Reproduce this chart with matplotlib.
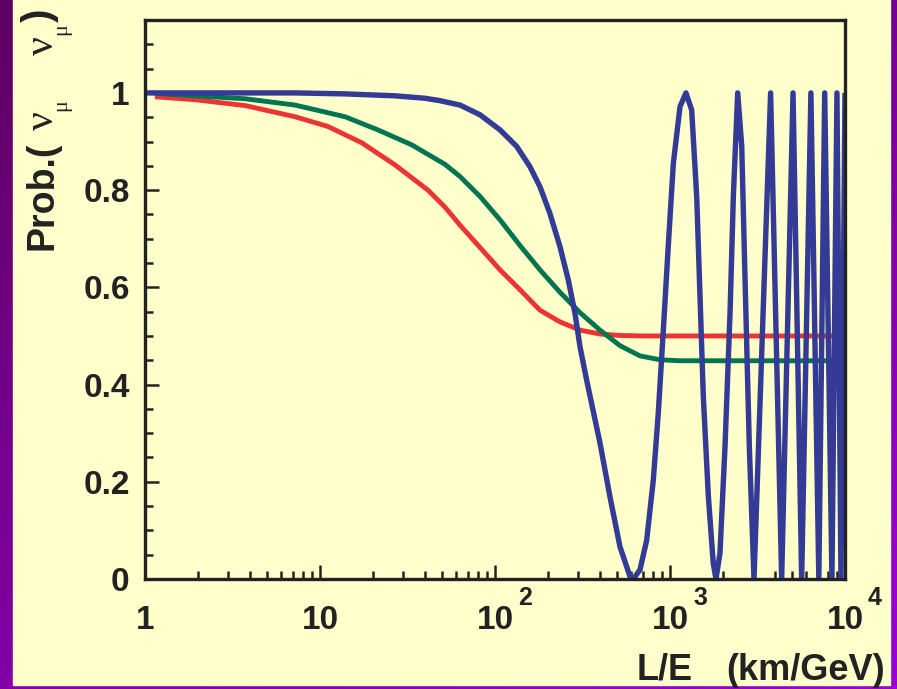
import numpy as np
import matplotlib
matplotlib.use('Agg')
import matplotlib.pyplot as plt
from matplotlib.patches import Rectangle
from matplotlib.ticker import MultipleLocator, FixedLocator, LogLocator, NullFormatter
from matplotlib.transforms import offset_copy

plt.rcParams['font.family'] = ['Liberation Sans', 'DejaVu Sans']
plt.rcParams['font.weight'] = 'bold'

# values (L/E in km/GeV, survival probability)
blue_le = [1.0, 7.2, 13.9, 26.8, 39.8, 48.5, 63.1, 82.1, 106.8, 133, 158.5, 180.7,
           206, 235, 262.4, 286.4, 306, 334, 357, 398, 454, 518, 591, 617, 674,
           736, 803, 857, 916, 977, 1045, 1141, 1234, 1330, 1421, 1484, 1550, 1656,
           1767, 1831, 1930, 2062, 2203, 2301, 2437, 2570, 2685, 2840, 3020, 3758,
           4346, 5047, 5654, 6385, 7087, 7656, 8420, 8995, 9484, 10000]
blue_p = [1.0, 1.0, 0.998, 0.994, 0.989, 0.984, 0.975, 0.955, 0.924, 0.890, 0.848, 0.807,
          0.752, 0.684, 0.615, 0.547, 0.478, 0.409, 0.360, 0.280, 0.169, 0.066, 0.005, 0.0, 0.019,
          0.080, 0.204, 0.341, 0.512, 0.684, 0.855, 0.972, 1.0, 0.965, 0.787, 0.582, 0.376, 0.171,
          0.032, 0.0, 0.053, 0.272, 0.547, 0.787, 1.0, 0.89, 0.615, 0.272, 0.0, 1.0,
          0.0, 1.0, 0.0, 1.0, 0.0, 1.0, 0.0, 1.0, 0.0, 1.0]

green_le = [1.14, 1.93, 3.73, 7.2, 13.9, 21.4, 33.5, 51.8, 63.1, 82.1, 106.8, 139,
            180.7, 235, 306, 398, 518, 674, 877, 1141, 9300]
green_p = [0.999, 0.994, 0.988, 0.975, 0.951, 0.924, 0.893, 0.853, 0.828, 0.787, 0.739,
           0.686, 0.636, 0.590, 0.548, 0.512, 0.480, 0.459, 0.451, 0.449, 0.449]

red_le = [1.14, 1.93, 3.73, 7.2, 11.1, 17.4, 26.8, 41.4, 51.8, 63.1, 82.1, 106.8, 139,
          180.7, 235, 306, 398, 518, 700, 9300]
red_p = [0.992, 0.986, 0.974, 0.951, 0.931, 0.897, 0.852, 0.800, 0.765, 0.728, 0.682,
         0.636, 0.595, 0.553, 0.529, 0.512, 0.504, 0.501, 0.500, 0.500]

y_ticks = [0, 0.2, 0.4, 0.6, 0.8, 1]
y_ticklabels = ['0', '0.2', '0.4', '0.6', '0.8', '1']
x_ticks = [1, 10, 100, 1000, 10000]
x_ticklabels = ['1', '10', '10', '10', '10']
x_exponents = ['', '', '2', '3', '4']

W, H = 897, 689
fig = plt.figure(figsize=(W / 100, H / 100), dpi=100)

# purple frame + yellow panel
bg = fig.add_axes([0, 0, 1, 1], zorder=-10)
gx, gy = np.meshgrid(np.linspace(0, 1, 64), np.linspace(0, 1, 64))
t = gx * 0.4 + gy * 0.6
c0 = np.array([0x5e, 0x00, 0x62]) / 255
c1 = np.array([0x9a, 0x00, 0xd4]) / 255
grad = c0 + (c1 - c0) * t[..., None]
bg.imshow(grad, extent=[0, 1, 1, 0], aspect='auto', origin='upper')
bg.add_patch(Rectangle((13 / W, 4 / H), 877 / W, 1, color='#ffffcc', transform=bg.transAxes))
bg.set_xlim(0, 1)
bg.set_ylim(1, 0)
bg.axis('off')

ax = fig.add_axes([145 / W, 110 / H, 700 / W, 559 / H])
ax.set_facecolor('none')

ax.plot(red_le, red_p, color='#ee3333', lw=3.5, solid_capstyle='butt')
ax.plot(green_le, green_p, color='#00754f', lw=3.5, solid_capstyle='butt')
ax.plot(blue_le, blue_p, color='#333b96', lw=3.9, solid_capstyle='butt')

ax.set_xscale('log')
ax.set_xlim(1, 10000)
ax.set_ylim(0, 1.15)

ax.yaxis.set_major_locator(FixedLocator(y_ticks))
ax.set_yticklabels(y_ticklabels)
ax.yaxis.set_minor_locator(MultipleLocator(0.05))
ax.xaxis.set_major_locator(FixedLocator(x_ticks))
ax.set_xticklabels(x_ticklabels)
ax.xaxis.set_minor_locator(LogLocator(base=10, subs=np.arange(2, 10)))
ax.xaxis.set_minor_formatter(NullFormatter())

for s in ax.spines.values():
    s.set_linewidth(2.4)
    s.set_color('#222222')

ax.tick_params(which='both', direction='in', color='#222222', width=1.8,
               top=False, right=False)
ax.tick_params(which='major', length=10)
ax.tick_params(which='minor', length=5.5)
ax.tick_params(axis='x', which='major', labelsize=24, pad=19, labelcolor='#222222')
ax.tick_params(axis='y', which='major', labelsize=24, pad=11, labelcolor='#222222')

# exponents on the x tick labels
sup_tr = offset_copy(ax.get_xaxis_transform(), fig=fig, x=23, y=-26, units='dots')
for xt, ex in zip(x_ticks, x_exponents):
    if ex:
        ax.text(xt, 0, ex, transform=sup_tr, ha='left', va='baseline',
                fontsize=18, fontweight='bold', color='#222222')

# y label built from pieces, anchored at their baseline start, reading upward
def ylab_piece(xb, ys, s, size, weight='bold', family=None):
    kw = dict(rotation=90, rotation_mode='anchor', ha='left', va='baseline',
              fontsize=size, fontweight=weight, color='#222222')
    if family:
        kw['family'] = family
    fig.text(xb / W, 1 - ys / H, s, **kw)

serif = ['Liberation Serif', 'DejaVu Serif']
ylab_piece(52, 250, 'Prob.(', 27)
ylab_piece(53, 130, 'ν', 30, 'normal', serif)
ylab_piece(66, 111, 'μ', 16, 'normal', serif)
ylab_piece(53, 55, 'ν', 30, 'normal', serif)
ylab_piece(66, 35, 'μ', 16, 'normal', serif)
ylab_piece(51, 22, ')', 29)

fig.text(637 / W, (H - 680) / H, 'L/E', ha='left', va='baseline',
         fontsize=26, fontweight='bold', color='#222222')
fig.text(885 / W, (H - 680) / H, '(km/GeV)', ha='right', va='baseline',
         fontsize=26, fontweight='bold', color='#222222')

fig.savefig('out.png', dpi=100)
